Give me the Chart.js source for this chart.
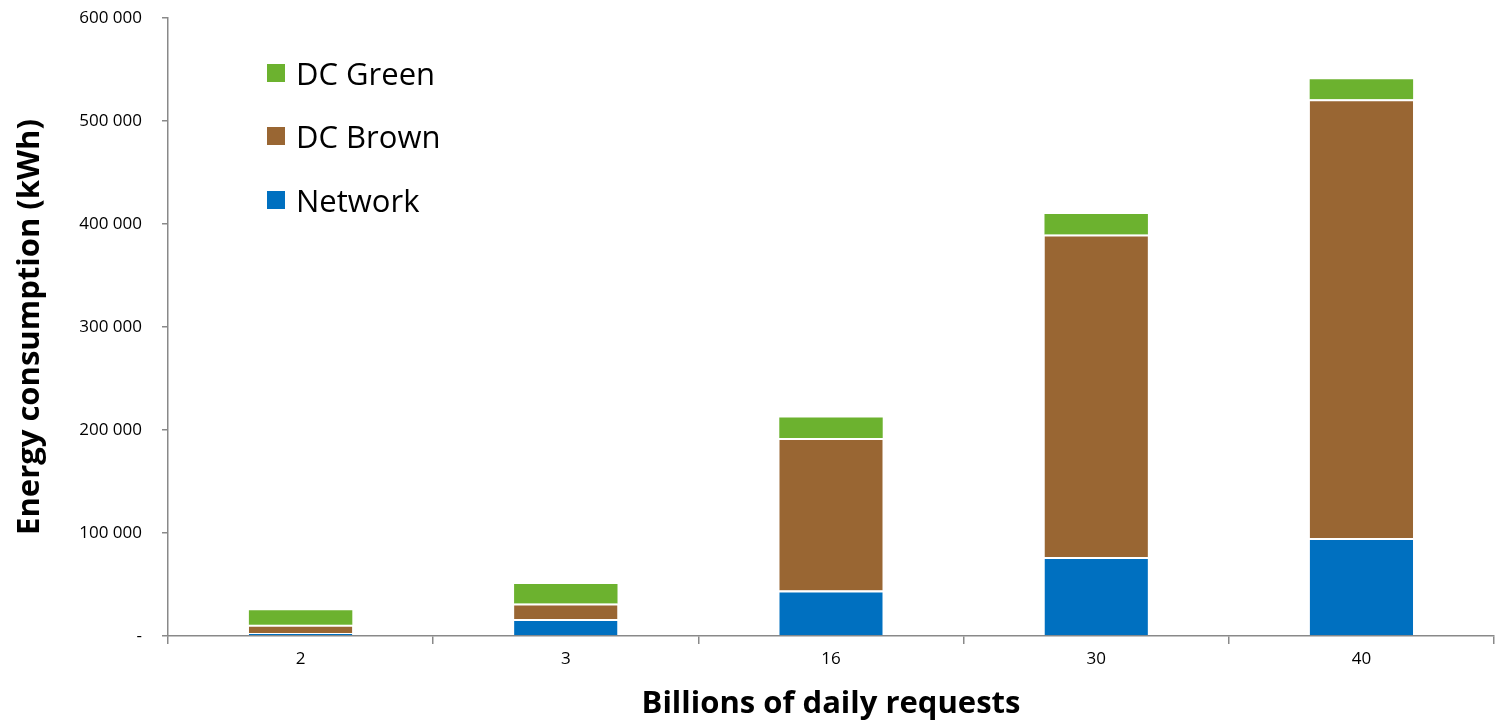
<!DOCTYPE html>
<html>
<head>
<meta charset="utf-8">
<title>Energy consumption</title>
<script src="https://cdn.jsdelivr.net/npm/chart.js@4.4.1/dist/chart.umd.min.js"></script>
<style>
  html, body { margin: 0; padding: 0; background: #fff; }
  #wrap { position: relative; width: 1497px; height: 727px; }
  canvas { display: block; }
  #legend { position: absolute; left: 267px; top: 41px; font-family: 'Open Sans', sans-serif; font-size: 31px; color: #000; }
  .lg-item { display: flex; align-items: center; height: 63.5px; }
  .lg-box { width: 18px; height: 18px; margin-right: 11px; }
</style>
</head>
<body>
<div id="wrap">
  <canvas id="chart" width="1497" height="727"></canvas>
  <div id="legend"></div>
</div>
<script>
// Data
var categories = ['2', '3', '16', '30', '40'];
var network = [3000, 16500, 44200, 76700, 95100];
var dcBrown = [8000, 15000, 148000, 313000, 426000];
var dcGreen = [14000, 19000, 20000, 20000, 19500];
var yTicks = [0, 100000, 200000, 300000, 400000, 500000, 600000];

var axisColor = '#898989';

function fmt(v) {
  if (v === 0) return '-';
  return String(v).replace(/\B(?=(\d{3})+(?!\d))/g, ' ');
}

var datasets = [
  { label: 'Network', data: network, backgroundColor: '#0070C0', borderColor: '#fff', borderWidth: { top: 2, left: 0, right: 0, bottom: 0 } },
  { label: 'DC Brown', data: dcBrown, backgroundColor: '#996633', borderColor: '#fff', borderWidth: { top: 2, left: 0, right: 0, bottom: 0 } },
  { label: 'DC Green', data: dcGreen, backgroundColor: '#6CB22F', borderWidth: 0 }
];
datasets.forEach(function (d) {
  d.barPercentage = 0.39;
  d.categoryPercentage = 1;
  d.borderSkipped = false;
});

// Legend (top entry = top of stack)
document.getElementById('legend').innerHTML = datasets.slice().reverse().map(function (d) {
  return '<div class="lg-item"><span class="lg-box" style="background:' + d.backgroundColor + '"></span>' + d.label + '</div>';
}).join('');

new Chart(document.getElementById('chart'), {
  type: 'bar',
  data: { labels: categories, datasets: datasets },
  options: {
    responsive: false,
    animation: false,
    layout: { padding: { top: 18, right: 3, left: 0, bottom: 0 } },
    plugins: { legend: { display: false }, tooltip: { enabled: false } },
    scales: {
      x: {
        stacked: true,
        afterFit: function (s) { s.height = 91; },
        grid: { offset: true, drawOnChartArea: false, drawTicks: true, tickLength: 8, color: axisColor, lineWidth: 1.5 },
        border: { color: axisColor, width: 1.5 },
        ticks: { color: '#000', font: { family: 'Open Sans', size: 17 }, padding: 5 },
        title: { display: true, text: 'Billions of daily requests', color: '#000', font: { family: 'Open Sans', size: 31, weight: 'bold' }, padding: { top: 14 } }
      },
      y: {
        stacked: true,
        min: 0, max: 600000,
        afterFit: function (s) { s.width = 168; s.paddingTop = 0; s.paddingBottom = 0; },
        afterBuildTicks: function (s) { s.ticks = yTicks.map(function (v) { return { value: v }; }); },
        grid: { drawOnChartArea: false, drawTicks: true, tickLength: 6, color: axisColor, lineWidth: 1.5 },
        border: { color: axisColor, width: 1.5 },
        ticks: { color: '#000', font: { family: 'Open Sans', size: 17 }, padding: 20, callback: function (v) { return fmt(v); } },
        title: { display: true, text: 'Energy consumption (kWh)', color: '#000', font: { family: 'Open Sans', size: 31, weight: 'bold' }, padding: { top: 12 } }
      }
    }
  }
});
</script>
</body>
</html>
